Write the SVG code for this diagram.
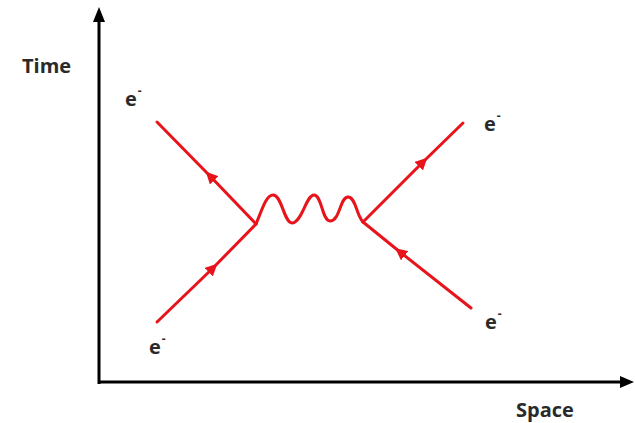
<svg xmlns="http://www.w3.org/2000/svg" width="635" height="423" viewBox="0 0 635 423">
<style>
.ax{stroke:#000;stroke-width:3;fill:none}
.fe{stroke:#e8141c;stroke-width:3;fill:none;stroke-linecap:round}
.lbl{font-family:"Open Sans","Liberation Sans",sans-serif;font-size:20px;font-weight:bold;fill:#2a2a2a}
.sup{font-size:12px}
</style>
<defs>
<marker id="fa" viewBox="0 0 10 10" refX="5" refY="5" markerWidth="4" markerHeight="4" orient="auto" markerUnits="strokeWidth">
<path d="M0,0 L10,5 L0,10 z" fill="#e8141c"/>
</marker>
</defs>
<rect width="635" height="423" fill="#fff"/>
<g id="axes">
<line class="ax" x1="99" y1="384" x2="99" y2="20"/>
<path d="M99,7 L105,22 L93,22 z" fill="#000"/>
<line class="ax" x1="98" y1="382" x2="622" y2="382"/>
<path d="M634,382 L620,376 L620,388 z" fill="#000"/>
</g>
<g id="connectors">
<path class="fe" d="M157,322 L213,268" marker-end="url(#fa)"/>
<path class="fe" d="M213,268 L256,224"/>
<path class="fe" d="M256,224 L210,176" marker-end="url(#fa)"/>
<path class="fe" d="M210,176 L157,122"/>
<path class="fe" d="M363,222 L423,162" marker-end="url(#fa)"/>
<path class="fe" d="M423,162 L463,123"/>
<path class="fe" d="M471,308 L400,252" marker-end="url(#fa)"/>
<path class="fe" d="M400,252 L363,222"/>
<path class="fe" d="M256,224 C262,210 266,195 273,195 C282,195 284,223 292,223 C302,223 306,195 314,195 C322,195 322,221 330,221 C340,221 340,197 348,197 C356,197 356,215 363,222"/>
</g>
<g id="labels">
<text class="lbl" x="22" y="73">Time</text>
<text class="lbl" x="125" y="106">e<tspan class="sup" dx="1" dy="-11">-</tspan></text>
<text class="lbl" x="484" y="131">e<tspan class="sup" dx="1" dy="-11">-</tspan></text>
<text class="lbl" x="149" y="354">e<tspan class="sup" dx="1" dy="-11">-</tspan></text>
<text class="lbl" x="485" y="329">e<tspan class="sup" dx="1" dy="-11">-</tspan></text>
<text class="lbl" x="516" y="417">Space</text>
</g>
</svg>
